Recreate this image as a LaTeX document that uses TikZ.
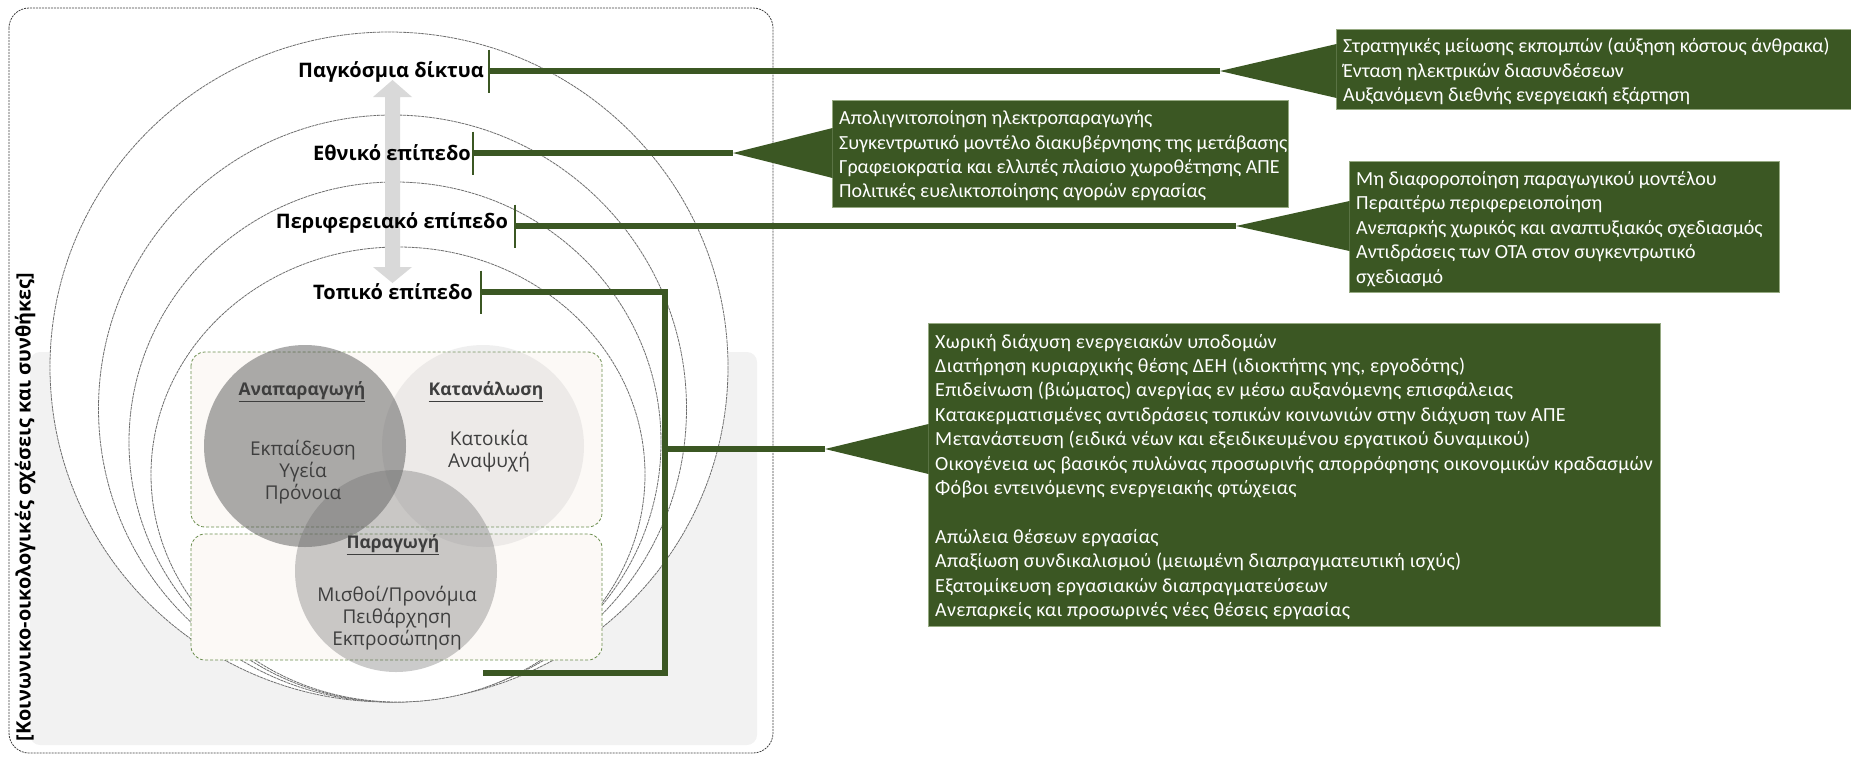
\documentclass[tikz,border=0pt]{standalone}
\usepackage{fontspec}
\setmainfont{Open Sans}
\newfontfamily\boxfamily{Carlito}
\newfontfamily\boxwide[LetterSpace=1.5]{Carlito}
\usepackage{xcolor}
\usepackage{tikz}
\usetikzlibrary{positioning, calc}
\definecolor{forestgreen}{RGB}{59, 87, 35}
\definecolor{boxedge}{RGB}{150, 170, 130}
\definecolor{bgrey}{RGB}{242, 242, 242}
\definecolor{venncream}{RGB}{252, 249, 246}
\definecolor{dashgreen}{RGB}{107, 142, 78}
\definecolor{arrowgrey}{RGB}{217, 217, 217}
\definecolor{ringgrey}{RGB}{110, 110, 110}
\definecolor{venntext}{RGB}{62, 62, 62}

\begin{document}
\begin{tikzpicture}[
    x=1pt, y=-1pt,
    layerlabel/.style={font=\fontsize{20}{23}\selectfont\bfseries, inner sep=0pt},
    ring/.style={draw=ringgrey, fill=white, line width=0.8pt, dash pattern=on 3pt off 0.7pt},
    conn/.style={draw=forestgreen, line width=6pt},
    tickmark/.style={draw=forestgreen, line width=2.5pt},
    gbox/.style={rectangle, fill=forestgreen, draw=boxedge, line width=0.8pt, anchor=north west, inner sep=0pt},
    gtext/.style={text=white, align=left, inner xsep=7pt, inner ysep=0pt, yshift=-2pt, font=\boxfamily\fontsize{20}{24.4}\selectfont},
    vennbox/.style={draw=dashgreen, fill=venncream, line width=0.8pt, dash pattern=on 3pt off 2pt, rounded corners=14pt},
    vhead/.style={text=venntext, font=\fontsize{17.5}{20}\selectfont\bfseries, inner sep=0pt},
    vitems/.style={text=venntext, align=center, font=\fontsize{19}{22}\selectfont, inner sep=0pt}
]
\useasboundingbox (0,0) rectangle (1851,761);

% Frame
\fill[bgrey, rounded corners=10pt] (30,352) rectangle (757,745);
\draw[black!75, line width=0.8pt, dash pattern=on 2pt off 1pt, rounded corners=20pt] (9,8) rectangle (773,753);
\node[rotate=90, font=\fontsize{19.8}{22}\selectfont\bfseries, inner sep=0pt] (context) at (25,507) {[Κοινωνικο-οικολογικές σχέσεις και συνθήκες]};

% Levels
\draw[ring] (389,367) ellipse [x radius=339, y radius=335];
\draw[ring] (392.5,408.5) ellipse [x radius=294, y radius=293.5];
\draw[ring] (395,442) ellipse [x radius=266, y radius=260];
\draw[ring] (398,474.5) ellipse [x radius=247, y radius=227.5];

% Scale arrow
\fill[arrowgrey] (392.5,80) -- (412,97) -- (400,97) -- (400,267) -- (412,267) -- (392.5,283)
    -- (373,267) -- (385,267) -- (385,97) -- (373,97) -- cycle;

% Spheres of everyday life
\draw[vennbox] (191,352) rectangle (602,527);
\draw[vennbox] (191,534) rectangle (602,660);
\fill[black!33, fill opacity=0.18] (483,446) circle[radius=101pt];
\fill[black!69, fill opacity=0.47] (305,446) circle[radius=101pt];
\fill[black!58, fill opacity=0.35] (396,571) circle[radius=101pt];

\node[vhead] (repro) at (302,392) {\underline{Αναπαραγωγή}};
\node[vitems] (reproItems) at (303,472) {Εκπαίδευση\\Υγεία\\Πρόνοια};
\node[vhead] (consum) at (486,392) {\underline{Κατανάλωση}};
\node[vitems] (consumItems) at (489,451) {Κατοικία\\Αναψυχή};
\node[vhead] (produc) at (393,545) {\underline{Παραγωγή}};
\node[vitems] (producItems) at (397,618) {Μισθοί/Προνόμια\\Πειθάρχηση\\Εκπροσώπηση};

% Level labels
\node[layerlabel] (glob) at (391,72) {Παγκόσμια δίκτυα};
\node[layerlabel] (nat) at (392,153) {Εθνικό επίπεδο};
\node[layerlabel] (reg) at (392,223) {Περιφερειακό επίπεδο};
\node[layerlabel] (loc) at (393,292) {Τοπικό επίπεδο};

\coordinate (globT) at (489,71);
\coordinate (natT) at (473,153);
\coordinate (regT) at (515,226);
\coordinate (locT) at (481,292);
\foreach \t in {globT, natT, regT, locT}
    \draw[tickmark] ($(\t)+(0,-21.5)$) -- ($(\t)+(0,21.5)$);

% Callout boxes
\node[gbox, minimum width=515pt, minimum height=80pt] (globBox) at (1336,29) {};
\node[gtext, right=0pt of globBox.west] (globText) {Στρατηγικές μείωσης εκπομπών (αύξηση κόστους άνθρακα)\\Ένταση ηλεκτρικών διασυνδέσεων\\Αυξανόμενη διεθνής ενεργειακή εξάρτηση};

\node[gbox, minimum width=456pt, minimum height=107pt] (natBox) at (832,100) {};
\node[gtext, right=0pt of natBox.west] (natText) {Απολιγνιτοποίηση ηλεκτροπαραγωγής\\Συγκεντρωτικό μοντέλο διακυβέρνησης της μετάβασης\\Γραφειοκρατία και ελλιπές πλαίσιο χωροθέτησης ΑΠΕ\\Πολιτικές ευελικτοποίησης αγορών εργασίας};

\node[gbox, minimum width=430pt, minimum height=131pt] (regBox) at (1349,161) {};
\node[gtext, right=0pt of regBox.west] (regText) {Μη διαφοροποίηση παραγωγικού μοντέλου\\Περαιτέρω περιφερειοποίηση\\Ανεπαρκής χωρικός και αναπτυξιακός σχεδιασμός\\Αντιδράσεις των ΟΤΑ στον συγκεντρωτικό\\σχεδιασμό};

\node[gbox, minimum width=732pt, minimum height=303pt] (locBox) at (928,323) {};
\node[gtext, font=\boxwide\fontsize{20}{24.4}\selectfont, right=0pt of locBox.west] (locText) {Χωρική διάχυση ενεργειακών υποδομών\\Διατήρηση κυριαρχικής θέσης ΔΕΗ (ιδιοκτήτης γης, εργοδότης)\\Επιδείνωση (βιώματος) ανεργίας εν μέσω αυξανόμενης επισφάλειας\\Κατακερματισμένες αντιδράσεις τοπικών κοινωνιών στην διάχυση των ΑΠΕ\\Μετανάστευση (ειδικά νέων και εξειδικευμένου εργατικού δυναμικού)\\Οικογένεια ως βασικός πυλώνας προσωρινής απορρόφησης οικονομικών κραδασμών\\Φόβοι εντεινόμενης ενεργειακής φτώχειας\\[24.4pt]Απώλεια θέσεων εργασίας\\Απαξίωση συνδικαλισμού (μειωμένη διαπραγματευτική ισχύς)\\Εξατομίκευση εργασιακών διαπραγματεύσεων\\Ανεπαρκείς και προσωρινές νέες θέσεις εργασίας};

% Connections
\coordinate (globTip) at (1220,71);
\coordinate (natTip) at (733,153);
\coordinate (regTip) at (1236,226);
\coordinate (locTip) at (825,449);
\coordinate (locMid) at (665,449);
\coordinate (locCorner) at (665,673);
\coordinate (locEnd) at (483,673);

\draw[conn] (globT) -- (globTip);
\draw[conn] (natT) -- (natTip);
\draw[conn] (regT) -- (regTip);
\draw[conn, line join=miter] (locT) -| (locCorner) -- (locEnd);
\draw[conn] (locMid) -- (locTip);

\fill[forestgreen] (globTip) -- ($(globBox.west |- globTip)+(0.5,-27)$) -- ($(globBox.west |- globTip)+(0.5,27)$) -- cycle;
\fill[forestgreen] (natTip) -- ($(natBox.west |- natTip)+(0.5,-25)$) -- ($(natBox.west |- natTip)+(0.5,25)$) -- cycle;
\fill[forestgreen] (regTip) -- ($(regBox.west |- regTip)+(0.5,-25)$) -- ($(regBox.west |- regTip)+(0.5,25)$) -- cycle;
\fill[forestgreen] (locTip) -- ($(locBox.west |- locTip)+(0.5,-25)$) -- ($(locBox.west |- locTip)+(0.5,25)$) -- cycle;
\end{tikzpicture}
\end{document}
